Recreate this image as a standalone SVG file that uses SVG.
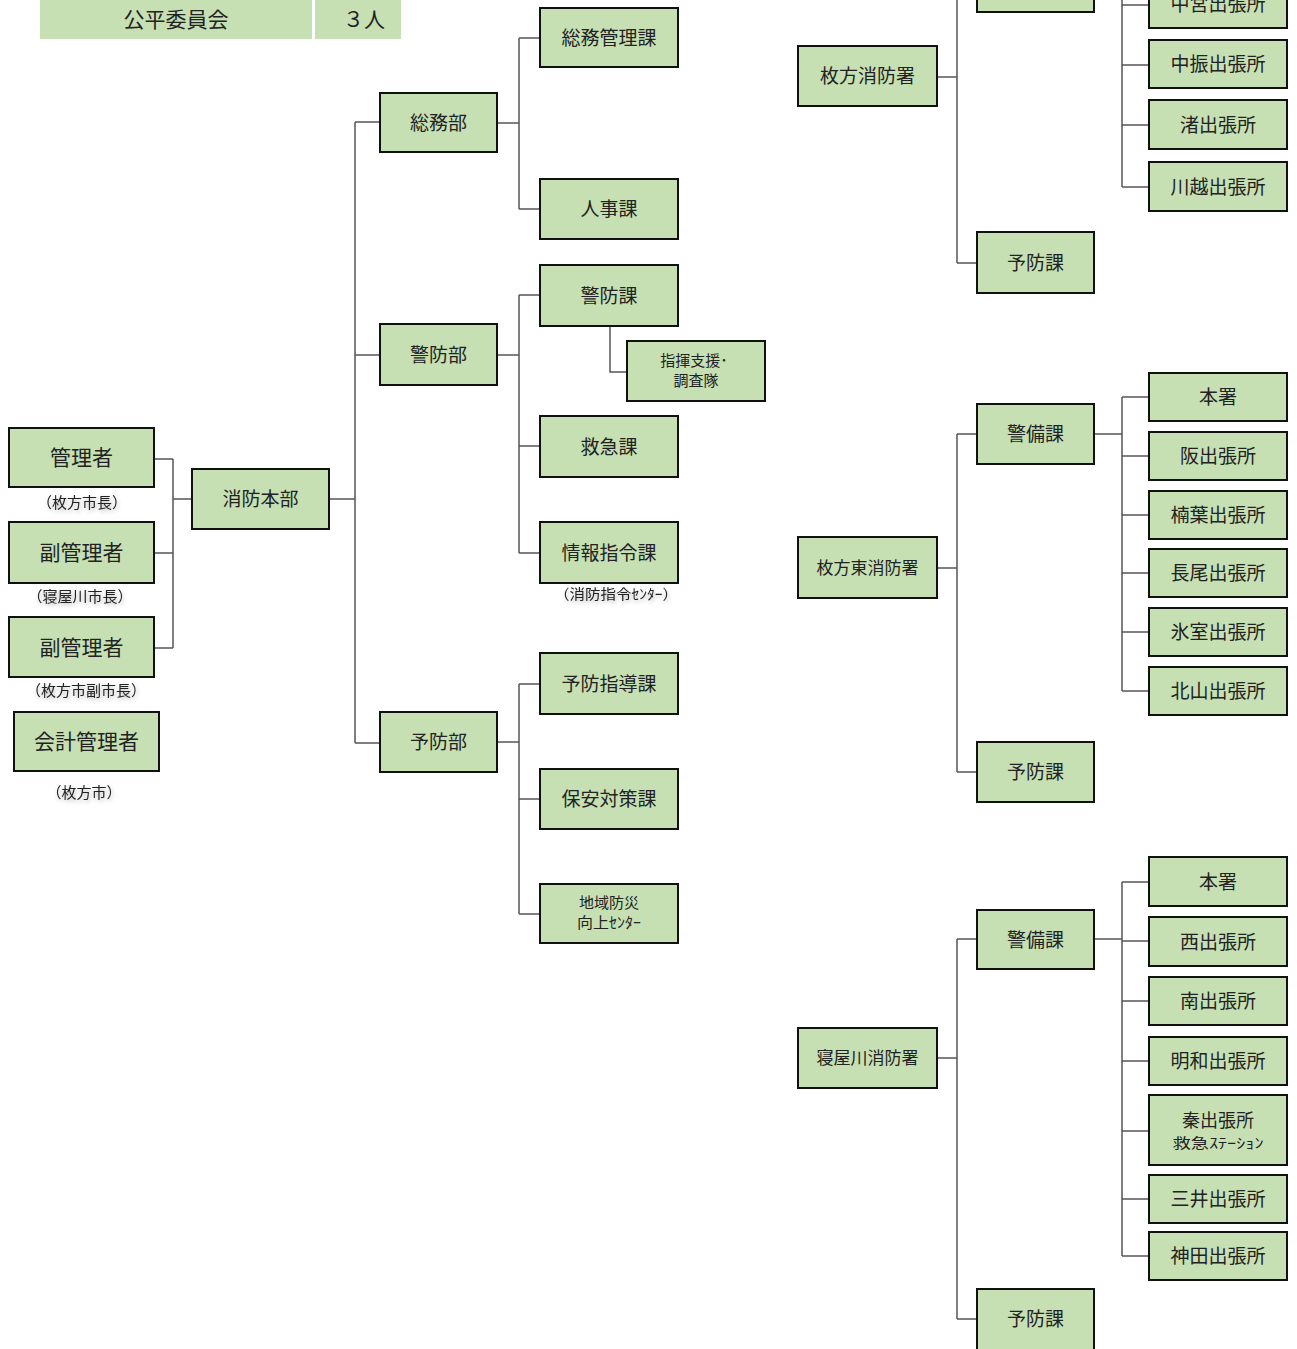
<svg xmlns="http://www.w3.org/2000/svg" width="1297" height="1349" viewBox="0 0 1297 1349">
<defs>
<style>
.n rect{fill:#c6e0b4;stroke:#111;stroke-width:2}
.h rect{fill:#c6e0b4;stroke:none}
text{font-family:"Noto Sans CJK JP","Noto Sans CJK SC",sans-serif;fill:#222;text-anchor:middle;dominant-baseline:central;transform:translateY(-1.5px)}
.t{font-size:19px}
.l{font-size:21px}
.s{font-size:17px}
.m{font-size:15px}
.sub{font-size:15px;filter:url(#sh)}
.c path{fill:none;stroke:#555;stroke-width:1.5}
</style>
<filter id="sh" x="-20%" y="-50%" width="140%" height="200%"><feDropShadow dx="1" dy="2" stdDeviation="2" flood-color="#000" flood-opacity="0.3"/></filter>
</defs>
<rect width="1297" height="1349" fill="#fff"/>
<g id="connectors" class="c">
<path d="M154,459H173M154,553H173M154,648H173M173,459V648M173,499H192"/>
<path d="M329,499H355M355,122V743M355,122H380M355,355H380M355,743H380"/>
<path d="M497,123H519M519,38V209M519,38H540M519,209H540"/>
<path d="M497,355H519M519,295V553M519,295H540M519,446H540M519,553H540"/>
<path d="M610,326V372H627"/>
<path d="M497,742H519M519,684V914M519,684H540M519,799H540M519,914H540"/>
<path d="M937,77H957M957,-18V263M957,-18H977M957,263H977"/>
<path d="M1094,-18H1122M1122,-18V187M1122,5H1149M1122,65H1149M1122,125H1149M1122,187H1149"/>
<path d="M937,568H957M957,434V772M957,434H977M957,772H977"/>
<path d="M1094,434H1122M1122,397V691M1122,397H1149M1122,456H1149M1122,515H1149M1122,573H1149M1122,632H1149M1122,691H1149"/>
<path d="M937,1058H957M957,939V1319M957,939H977M957,1319H977"/>
<path d="M1094,939H1122M1122,882V1256M1122,882H1149M1122,941H1149M1122,1001H1149M1122,1061H1149M1122,1131H1149M1122,1199H1149M1122,1256H1149"/>
</g>
<g id="koheiiinkai" class="h"><rect x="40" y="0" width="272" height="39"/><text class="l" x="176" y="19">公平委員会</text></g>
<g id="ninzu" class="h"><rect x="315" y="0" width="86" height="39"/><text class="l" x="364" y="19">３人</text></g>
<g id="kanrisha" class="n"><rect x="9" y="428" width="145" height="59"/><text class="l" x="81.5" y="457.5">管理者</text></g>
<text class="sub" x="82" y="503">（枚方市長）</text>
<g id="fukukanrisha1" class="n"><rect x="9" y="522" width="145" height="61"/><text class="l" x="81.5" y="552.5">副管理者</text></g>
<text class="sub" x="80" y="597">（寝屋川市長）</text>
<g id="fukukanrisha2" class="n"><rect x="9" y="617" width="145" height="60"/><text class="l" x="81.5" y="647">副管理者</text></g>
<text class="sub" x="86" y="691">（枚方市副市長）</text>
<g id="kaikei" class="n"><rect x="14" y="712" width="145" height="59"/><text class="l" x="86.5" y="741.5">会計管理者</text></g>
<text class="sub" x="84" y="793">（枚方市）</text>
<g id="honbu" class="n"><rect x="192" y="469" width="137" height="60"/><text class="t" x="260.5" y="499">消防本部</text></g>
<g id="somubu" class="n"><rect x="380" y="93" width="117" height="59"/><text class="t" x="438.5" y="122.5">総務部</text></g>
<g id="somukanri" class="n"><rect x="540" y="8" width="138" height="59"/><text class="t" x="609" y="37.5">総務管理課</text></g>
<g id="jinji" class="n"><rect x="540" y="179" width="138" height="60"/><text class="t" x="609" y="209">人事課</text></g>
<g id="keibobu" class="n"><rect x="380" y="324" width="117" height="61"/><text class="t" x="438.5" y="354.5">警防部</text></g>
<g id="keiboka" class="n"><rect x="540" y="265" width="138" height="61"/><text class="t" x="609" y="295.5">警防課</text></g>
<g id="shiki" class="n"><rect x="627" y="341" width="138" height="60"/><text class="m" x="694" y="361">指揮支援･</text><text class="m" x="696" y="381">調査隊</text></g>
<g id="kyukyu" class="n"><rect x="540" y="416" width="138" height="61"/><text class="t" x="609" y="446.5">救急課</text></g>
<g id="joho" class="n"><rect x="540" y="522" width="138" height="61"/><text class="t" x="609" y="552.5">情報指令課</text></g>
<text class="sub" x="616" y="594" style="font-size:14px" textLength="124" lengthAdjust="spacingAndGlyphs">（消防指令ｾﾝﾀｰ）</text>
<g id="yobobu" class="n"><rect x="380" y="712" width="117" height="60"/><text class="t" x="438.5" y="742">予防部</text></g>
<g id="yoboshido" class="n"><rect x="540" y="653" width="138" height="61"/><text class="t" x="609" y="683.5">予防指導課</text></g>
<g id="hoan" class="n"><rect x="540" y="769" width="138" height="60"/><text class="t" x="609" y="799">保安対策課</text></g>
<g id="chiiki" class="n"><rect x="540" y="884" width="138" height="59"/><text class="m" x="609" y="903">地域防災</text><text class="m" x="609" y="923" textLength="64" lengthAdjust="spacingAndGlyphs">向上ｾﾝﾀｰ</text></g>
<g id="hirakata" class="n"><rect x="798" y="46" width="139" height="60"/><text class="t" x="867.5" y="76">枚方消防署</text></g>
<g id="hirakata-top" class="n"><rect x="977" y="-48" width="117" height="60"/></g>
<g id="hirakata-yobo" class="n"><rect x="977" y="232" width="117" height="61"/><text class="t" x="1035.5" y="262.5">予防課</text></g>
<g id="nakamiya" class="n"><rect x="1149" y="-20" width="138" height="48"/><text class="t" x="1218" y="4">中宮出張所</text></g>
<g id="nakafuri" class="n"><rect x="1149" y="40" width="138" height="48"/><text class="t" x="1218" y="64">中振出張所</text></g>
<g id="nagisa" class="n"><rect x="1149" y="100" width="138" height="49"/><text class="t" x="1218" y="124.5">渚出張所</text></g>
<g id="kawagoe" class="n"><rect x="1149" y="162" width="138" height="49"/><text class="t" x="1218" y="186.5">川越出張所</text></g>
<g id="higashi" class="n"><rect x="798" y="537" width="139" height="61"/><text class="s" x="867.5" y="567.5">枚方東消防署</text></g>
<g id="higashi-keibi" class="n"><rect x="977" y="404" width="117" height="60"/><text class="t" x="1035.5" y="434">警備課</text></g>
<g id="higashi-honsho" class="n"><rect x="1149" y="373" width="138" height="48"/><text class="t" x="1218" y="397">本署</text></g>
<g id="saka" class="n"><rect x="1149" y="432" width="138" height="48"/><text class="t" x="1218" y="456">阪出張所</text></g>
<g id="kuzuha" class="n"><rect x="1149" y="491" width="138" height="48"/><text class="t" x="1218" y="515">楠葉出張所</text></g>
<g id="nagao" class="n"><rect x="1149" y="549" width="138" height="48"/><text class="t" x="1218" y="573">長尾出張所</text></g>
<g id="himuro" class="n"><rect x="1149" y="608" width="138" height="48"/><text class="t" x="1218" y="632">氷室出張所</text></g>
<g id="kitayama" class="n"><rect x="1149" y="667" width="138" height="48"/><text class="t" x="1218" y="691">北山出張所</text></g>
<g id="higashi-yobo" class="n"><rect x="977" y="742" width="117" height="60"/><text class="t" x="1035.5" y="772">予防課</text></g>
<g id="neyagawa" class="n"><rect x="798" y="1028" width="139" height="60"/><text class="s" x="867.5" y="1058">寝屋川消防署</text></g>
<g id="neyagawa-keibi" class="n"><rect x="977" y="910" width="117" height="59"/><text class="t" x="1035.5" y="939.5">警備課</text></g>
<g id="neyagawa-honsho" class="n"><rect x="1149" y="857" width="138" height="49"/><text class="t" x="1218" y="881.5">本署</text></g>
<g id="nishi" class="n"><rect x="1149" y="917" width="138" height="49"/><text class="t" x="1218" y="941.5">西出張所</text></g>
<g id="minami" class="n"><rect x="1149" y="977" width="138" height="48"/><text class="t" x="1218" y="1001">南出張所</text></g>
<g id="meiwa" class="n"><rect x="1149" y="1037" width="138" height="48"/><text class="t" x="1218" y="1061">明和出張所</text></g>
<g id="hata" class="n"><rect x="1149" y="1095" width="138" height="70"/><text class="t" x="1218" y="1120" style="font-size:18px">秦出張所</text><text class="m" x="1218" y="1143" style="font-size:14px" textLength="91" lengthAdjust="spacingAndGlyphs">救急ｽﾃｰｼｮﾝ</text></g>
<g id="mitsui" class="n"><rect x="1149" y="1175" width="138" height="48"/><text class="t" x="1218" y="1199">三井出張所</text></g>
<g id="kanda" class="n"><rect x="1149" y="1232" width="138" height="48"/><text class="t" x="1218" y="1256">神田出張所</text></g>
<g id="neyagawa-yobo" class="n"><rect x="977" y="1289" width="117" height="62"/><text class="t" x="1035.5" y="1319">予防課</text></g>
</svg>
